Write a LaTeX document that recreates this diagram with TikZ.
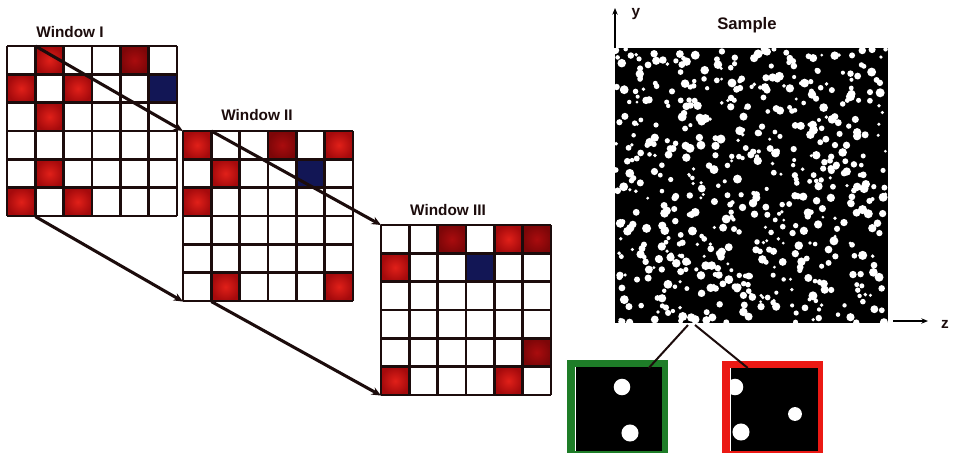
\documentclass[tikz,border=0pt]{standalone}
\usepackage{fontspec}
\setmainfont{Liberation Sans}
\usetikzlibrary{arrows.meta,calc}
\definecolor{cellred}{RGB}{225,32,25}
\definecolor{cellredo}{RGB}{165,10,12}
\definecolor{celldark}{RGB}{170,12,14}
\definecolor{celldarko}{RGB}{125,6,8}
\definecolor{navy}{RGB}{18,22,85}
\definecolor{inkdark}{RGB}{28,12,12}
\definecolor{boxgreen}{RGB}{30,125,40}
\definecolor{boxred}{RGB}{235,25,20}
\def\wcell{28.33}
\tikzset{
  gridln/.style={line width=2.2pt, draw=inkdark},
  cellR/.style={inner color=cellred, outer color=cellredo},
  cellD/.style={inner color=celldark, outer color=celldarko},
  cellB/.style={fill=navy},
  wnode/.style={anchor=north west, minimum width=127.5pt, minimum height=127.5pt, inner sep=0pt},
  conn/.style={line width=2.3pt, draw=inkdark, -{Stealth[length=7pt,width=6pt]}},
  lbl/.style={font=\fontsize{11.5}{13}\selectfont\bfseries, text=inkdark, inner sep=0pt},
  axis/.style={line width=1.1pt, draw=black, -{Stealth[length=5pt,width=4pt]}},
  zoomln/.style={line width=1.5pt, draw=inkdark},
}
\newcommand\windowgrid[3]{%
  \begin{scope}[shift={(#1,#2)}]
    \foreach \r/\c/\st in {#3} {
      \path[\st] ({\c*\wcell},{\r*\wcell}) rectangle ({(\c+1)*\wcell},{(\r+1)*\wcell});
    }
    \foreach \k in {0,...,6} {
      \draw[gridln] ({\k*\wcell},0) -- ({\k*\wcell},{6*\wcell});
      \draw[gridln] (0,{\k*\wcell}) -- ({6*\wcell},{\k*\wcell});
    }
  \end{scope}}
\begin{document}
\begin{tikzpicture}[x=0.75pt,y=-0.75pt]
\useasboundingbox (0,0) rectangle (957,455);

% ---------- windows ----------
\node[wnode] (w1) at (7,46) {};
\node[wnode] (w2) at (183,131) {};
\node[wnode] (w3) at (381,225) {};

\windowgrid{7}{46}{0/1/cellR,0/4/cellD,1/0/cellR,1/2/cellR,1/5/cellB,2/1/cellR,4/1/cellR,5/0/cellR,5/2/cellR}
\windowgrid{183}{131}{0/0/cellR,0/3/cellD,0/5/cellR,1/1/cellR,1/4/cellB,2/0/cellR,5/1/cellR,5/5/cellR}
\windowgrid{381}{225}{0/2/cellD,0/4/cellR,0/5/cellD,1/0/cellR,1/3/cellB,4/5/cellD,5/0/cellR,5/4/cellR}

\node[lbl] (l1) at (70,32) {Window I};
\node[lbl] (l2) at (257,115) {Window II};
\node[lbl] (l3) at (448,210) {Window III};

% ---------- connectors between windows ----------
\draw[conn] ($(w1.north west)+(\wcell,0)$) -- (w2.north west);
\draw[conn] ($(w1.south west)+(\wcell,0)$) -- (w2.south west);
\draw[conn] ($(w2.north west)+(\wcell,0)$) -- (w3.north west);
\draw[conn] ($(w2.south west)+(\wcell,0)$) -- (w3.south west);

% ---------- sample ----------
\node[anchor=north west, fill=black, minimum width=204.75pt, minimum height=206.25pt, inner sep=0pt] (sample) at (615,48) {};
\begin{scope}
  \clip (615,48) rectangle (888,323);
  \pgfmathsetseed{31}
  \foreach \i in {1,...,600} {
    \pgfmathsetmacro\px{615+273*rnd}
    \pgfmathsetmacro\py{48+275*rnd}
    \pgfmathsetmacro\rr{1.1+2.3*rnd}
    \fill[white] (\px,\py) circle[radius=\rr pt];
  }
\end{scope}

\node[lbl, font=\fontsize{12.5}{14}\selectfont\bfseries] (stitle) at (747,25) {Sample};

% axes
\coordinate (yend) at (615,8);
\coordinate (zstart) at (893,321);
\coordinate (zend) at (928,321);
\draw[axis] (sample.north west) -- (yend);
\draw[axis] (zstart) -- (zend);
\node[lbl] (ylbl) at (636,14) {y};
\node[lbl] (zlbl) at (945,324) {z};

% ---------- zoomed squares ----------
\node[anchor=north west, fill=boxgreen, minimum width=75.75pt, minimum height=69.75pt, inner sep=0pt] (gbox) at (567,360) {};
\fill[black] (575,367) rectangle (662,451);
\draw[white, line width=0.8pt] (575.6,367) -- (575.6,451);
\fill[white] (622,387) circle[radius=6.2pt];
\fill[white] (630,433) circle[radius=6.4pt];

\node[anchor=north west, fill=boxred, minimum width=75.75pt, minimum height=69pt, inner sep=0pt] (rbox) at (722,361) {};
\begin{scope}
  \clip (730,368) rectangle (818,451);
  \fill[black] (730,368) rectangle (818,451);
  \fill[white] (735,387) circle[radius=6.2pt];
  \fill[white] (795,414) circle[radius=5.2pt];
  \fill[white] (741,432) circle[radius=6.4pt];
\end{scope}
\draw[white, line width=0.8pt] (730.6,368) -- (730.6,451);

\coordinate (sa) at (688,325);
\coordinate (sb) at (695,325);
\draw[zoomln] (sa) -- ($(gbox.north)+(31,8)$);
\draw[zoomln] (sb) -- ($(rbox.north)+(-25,7)$);
\end{tikzpicture}
\end{document}
